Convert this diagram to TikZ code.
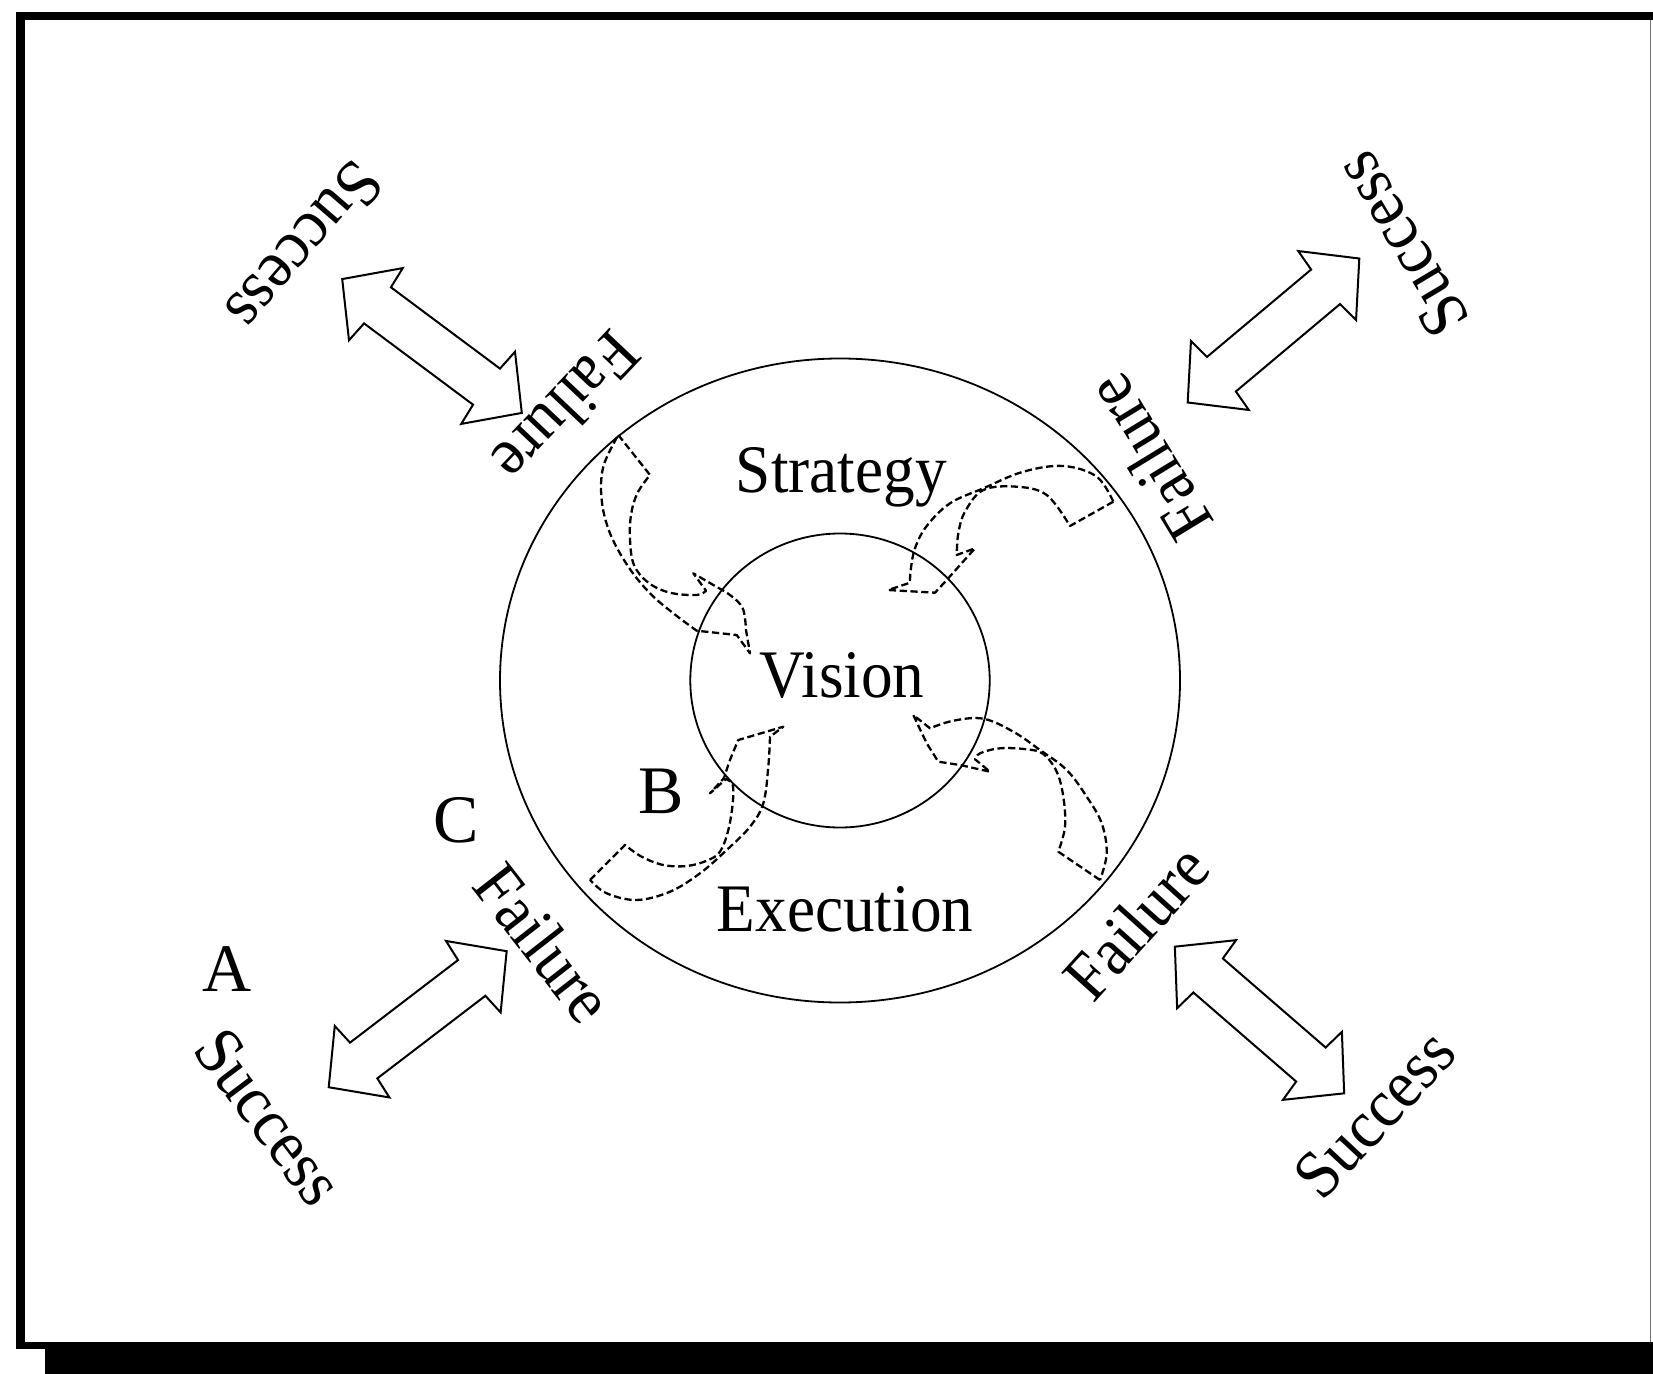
\documentclass[tikz,border=0pt]{standalone}
\usepackage{fontspec}
\setmainfont{Liberation Serif}
\usetikzlibrary{shapes.geometric}
\newcommand{\narrow}[1]{\scalebox{0.93}[1]{#1}}
\tikzset{
  lbl/.style={inner sep=0pt, font=\fontsize{34}{40}\selectfont},
  rlbl/.style={inner sep=0pt, font=\fontsize{34}{40}\selectfont},
  dsh/.style={line width=1.15pt, dash pattern=on 3.6pt off 1.8pt, line join=round},
  ring/.style={draw, ellipse, line width=0.9pt, inner sep=0pt},
  dblarrow/.pic={\draw[line width=1pt, line join=miter]
      (112,0) -- (70,45) -- (68,22.5) -- (-68,22.5) -- (-70,45) -- (-112,0)
      -- (-70,-45) -- (-68,-22.5) -- (68,-22.5) -- (70,-45) -- cycle;}
}
\begin{document}
\begin{tikzpicture}[x=0.5pt, y=-0.5pt]
\useasboundingbox (0,0) rectangle (1653,1374);
% frame with shadow
\fill (16,12) rectangle (1653,20);
\fill (16,12) rectangle (25,1349);
\fill (16,1342) rectangle (1653,1349);
\fill (45,1342) rectangle (1653,1374);
\draw[line width=0.9pt, black!55] (1650.5,20) -- (1650.5,1342);

% circles
\node[ring, minimum width=340pt, minimum height=322pt] (outer) at (840,680.5) {};
\node[ring, minimum width=149.7pt, minimum height=147pt] (inner) at (840,680.5) {};

% main labels
\node[lbl, anchor=base] (strategy) at (841.3,492) {\narrow{Strategy}};
\node[lbl, anchor=base] (vision) at (842,697) {\narrow{Vision}};
\node[lbl, anchor=base] (execution) at (845,931) {\narrow{Execution}};
\node[lbl, anchor=base] (labA) at (227,991) {A};
\node[lbl, anchor=base] (labB) at (661,813) {B};
\node[lbl, anchor=base] (labC) at (456,842) {C};

% rotated labels
\node[rlbl, rotate=229.2] (sTL) at (305,247) {\narrow{Success}};
\node[rlbl, rotate=226.6] (fTL) at (567,408) {\narrow{Failure}};
\node[rlbl, rotate=120.8] (sTR) at (1401,245) {\narrow{Success}};
\node[rlbl, rotate=121.4] (fTR) at (1149,458) {\narrow{Failure}};
\node[rlbl, rotate=-53] (sBL) at (269,1117) {\narrow{Success}};
\node[rlbl, rotate=-52] (fBL) at (544,943) {\narrow{Failure}};
\node[rlbl, rotate=47] (sBR) at (1375,1114) {\narrow{Success}};
\node[rlbl, rotate=48] (fBR) at (1136,922) {\narrow{Failure}};

% double block arrows
\pic[rotate=-36.7] at (432,346) {dblarrow};
\pic[rotate=40] at (1273.5,330.5) {dblarrow};
\pic[rotate=37.4] at (417.7,1019.2) {dblarrow};
\pic[rotate=-40.9] at (1259.5,1020) {dblarrow};

% curved dashed arrows
% top-left
\draw[dsh] (618.3,435) -- (650,475)
  -- plot[smooth, tension=0.6] coordinates {(650,475) (637.3,493.3) (631,515) (630,540) (634,565) (648.3,582.7) (670,592.7) (696.7,595) (706,590.7)}
  -- (693.3,573.3)
  -- plot[smooth, tension=0.6] coordinates {(693.3,573.3) (713.3,585) (730,595) (742.7,608.3) (746,630)}
  -- (750,653.3) -- (736.7,635) -- (696.7,630.7)
  -- plot[smooth, tension=0.6] coordinates {(696.7,630.7) (673.3,613.3) (650,593.3) (628.3,566.7) (610,533.3) (601.7,500) (603.3,466.7) (618.3,435)};
% top-right
\draw[dsh] (1113.3,501.7) -- (1070,526)
  -- plot[smooth, tension=0.6] coordinates {(1070,526) (1046.7,495) (1016.7,486.7) (983.3,490) (965,511.7) (958.3,533.3) (956.7,555)}
  -- (975,548.3) -- (946.7,580) -- (935,592.7) -- (888.3,590) -- (910,582.7)
  -- plot[smooth, tension=0.6] coordinates {(910,582.7) (910.7,570) (915,548.3) (926.7,526) (950,503.3) (983.3,488.3) (1023.3,471.7) (1063.3,466) (1096.7,476.7) (1113.3,501.7)};
% bottom-left
\draw[dsh] (590,880) -- (625,845)
  -- plot[smooth, tension=0.6] coordinates {(625,845) (641.7,856.7) (663.3,865) (686.7,866) (706.7,860.7) (720,851.7) (728.3,830) (732.7,803.3) (732.7,785) (726,779)}
  -- (710,793.3) -- (724,778)
  -- plot[smooth, tension=0.6] coordinates {(724,778) (730,760) (738.3,740)}
  -- (783.3,726.7) -- (770,736.7)
  -- plot[smooth, tension=0.6] coordinates {(770,736.7) (768.3,766.7) (763.3,803.3) (750,826.7) (726.7,850) (700,873.3) (670,891.7) (636.7,900) (606.7,893.3) (590,880)};
% bottom-right
\draw[dsh] (1100,880) -- (1058.3,851.7)
  -- plot[smooth, tension=0.6] coordinates {(1058.3,851.7) (1065,826.7) (1063.3,796.7) (1056.7,771.7) (1043.3,754) (1026.7,749.3) (1000,748.3) (980,753.3) (975,759.3)}
  -- (990,771.7) -- (960,765) -- (938.3,761.7) -- (926.7,743.3) -- (913.3,715) -- (930,728.3)
  -- plot[smooth, tension=0.6] coordinates {(930,728.3) (953.3,720.7) (983.3,718.7) (1013.3,731.7) (1040,750) (1066.7,770) (1086.7,796.7) (1101.7,823.3) (1106.7,853.3) (1100,880)};
\end{tikzpicture}
\end{document}
